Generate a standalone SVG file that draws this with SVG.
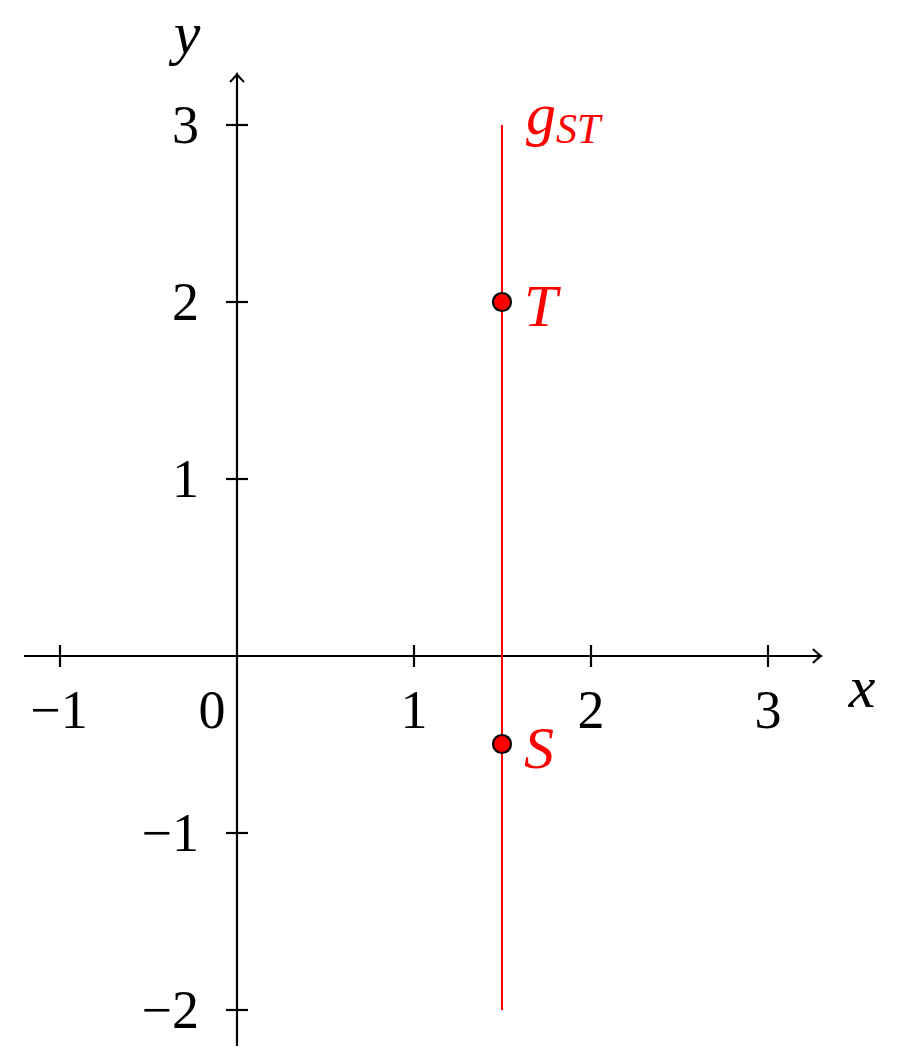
<svg xmlns="http://www.w3.org/2000/svg" width="907" height="1054" viewBox="0 0 907 1054">
<style>
.ax{stroke:#000;stroke-width:2.2;fill:none}
.tk{stroke:#000;stroke-width:2.2}
.num{font-family:"Liberation Serif","DejaVu Serif",serif;font-size:54px;fill:#000}
.var{font-family:"Liberation Serif","DejaVu Serif",serif;font-style:italic;font-size:60px}
.red{fill:#ff0000}
.pt{fill:#ff0000;stroke:#000;stroke-width:2.2}
</style>
<defs>
<marker id="arr" viewBox="-10 -8 12 16" markerWidth="12" markerHeight="16" refX="0" refY="0" orient="auto" markerUnits="userSpaceOnUse">
<path d="M-8,-7 Q-2,-1 0,0 Q-2,1 -8,7" fill="none" stroke="#000" stroke-width="2"/>
</marker>
</defs>
<rect width="907" height="1054" fill="#fff"/>
<g id="axes">
<line class="ax" x1="24" y1="656" x2="821" y2="656" marker-end="url(#arr)"/>
<line class="ax" x1="237" y1="1046" x2="237" y2="74" marker-end="url(#arr)"/>
<g id="xticks">
<line class="tk" x1="60" y1="645" x2="60" y2="667"/>
<line class="tk" x1="414" y1="645" x2="414" y2="667"/>
<line class="tk" x1="591" y1="645" x2="591" y2="667"/>
<line class="tk" x1="768" y1="645" x2="768" y2="667"/>
</g>
<g id="yticks">
<line class="tk" x1="226" y1="125" x2="248" y2="125"/>
<line class="tk" x1="226" y1="302" x2="248" y2="302"/>
<line class="tk" x1="226" y1="479" x2="248" y2="479"/>
<line class="tk" x1="226" y1="833" x2="248" y2="833"/>
<line class="tk" x1="226" y1="1010" x2="248" y2="1010"/>
</g>
<g id="xlabels" text-anchor="middle">
<text class="num" x="59" y="728">−1</text>
<text class="num" x="212" y="728">0</text>
<text class="num" x="414" y="728">1</text>
<text class="num" x="591" y="728">2</text>
<text class="num" x="768" y="728">3</text>
</g>
<g id="ylabels" text-anchor="end">
<text class="num" x="199" y="143">3</text>
<text class="num" x="199" y="320">2</text>
<text class="num" x="199" y="497">1</text>
<text class="num" x="199" y="851">−1</text>
<text class="num" x="199" y="1028">−2</text>
</g>
<text class="var" x="862" y="707" text-anchor="middle">x</text>
<text class="var" x="187" y="53" text-anchor="middle">y</text>
</g>
<g id="line-gST">
<line x1="502" y1="125" x2="502" y2="1010" stroke="#ff0000" stroke-width="2"/>
<text class="var red" x="526" y="134">g<tspan font-size="42" dy="9">ST</tspan></text>
</g>
<g id="point-T">
<circle class="pt" cx="502" cy="302" r="9"/>
<text class="var red" x="524" y="326">T</text>
</g>
<g id="point-S">
<circle class="pt" cx="502" cy="744" r="9"/>
<text class="var red" x="524" y="768">S</text>
</g>
</svg>
